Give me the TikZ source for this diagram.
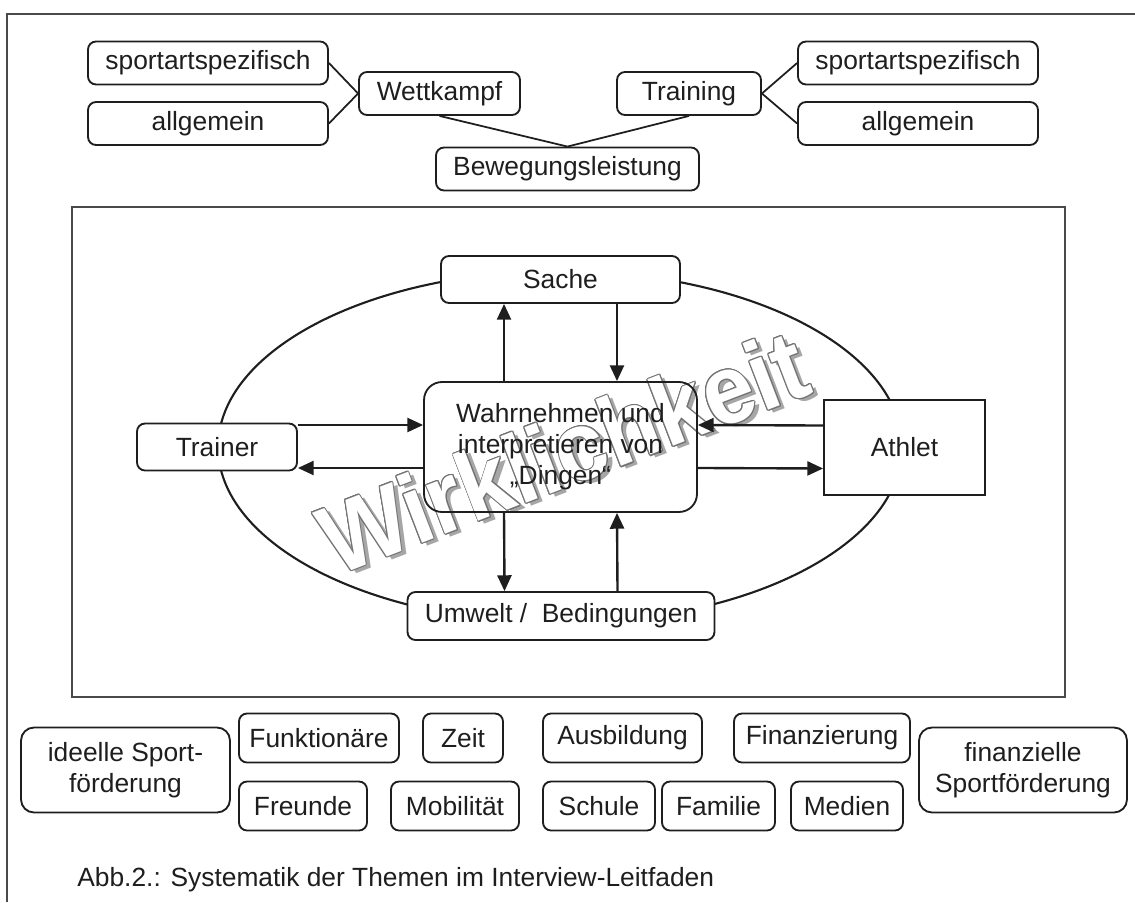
\documentclass[tikz,border=0pt]{standalone}
\usepackage{fontspec}
\setmainfont{Liberation Sans}
\usepackage{contour}
\usetikzlibrary{arrows.meta,positioning}
\definecolor{Ink}{HTML}{1E1E1E}
\definecolor{Frame}{HTML}{4A4A4A}
\contourlength{0.6pt}
\tikzset{
  box/.style={draw=Ink, line width=1.05pt, rounded corners=1.6mm, fill=white,
              align=center, inner sep=0pt, minimum height=0.86cm,
              font=\fontsize{15}{17.6}\selectfont, text=Ink},
  item/.style={box, minimum height=0.98cm},
  bigbox/.style={box, rounded corners=2.6mm, minimum height=1.7cm},
  plainbox/.style={box, rounded corners=0pt},
  link/.style={draw=Ink, line width=1pt},
  arrow/.style={-{Triangle[length=9pt,width=8pt]}, line width=1.35pt, draw=Ink},
  wmark/.style={font=\fontsize{56}{56}\selectfont\bfseries, inner sep=0pt},
}

\begin{document}
\begin{tikzpicture}[x=0.02cm, y=-0.02cm]
  \useasboundingbox (0,0) rectangle (1135,902);
  \draw[Frame, line width=1.1pt] (1135,14) -- (7,14) -- (7,902);

  % Bewegungsleistung
  \node[box, minimum width=4.8cm] (sportL) at (208,63) {sportartspezifisch};
  \node[box, minimum width=4.8cm] (allgL) at (208,123.5) {allgemein};
  \node[box, minimum width=3.22cm] (wett) at (439.5,93.5) {Wettkampf};
  \node[box, minimum width=2.88cm] (train) at (689,93.5) {Training};
  \node[box, minimum width=4.8cm] (sportR) at (918,63) {sportartspezifisch};
  \node[box, minimum width=4.8cm] (allgR) at (918,123.5) {allgemein};
  \node[box, minimum width=5.26cm] (beweg) at (567.5,169) {Bewegungsleistung};
  \draw[link] (sportL.east) -- (wett.west);
  \draw[link] (allgL.east) -- (wett.west);
  \draw[link] (train.east) -- (sportR.west);
  \draw[link] (train.east) -- (allgR.west);
  \draw[link] (wett.south) -- (beweg.north);
  \draw[link] (train.south) -- (beweg.north);

  % Wirklichkeit
  \draw[Frame, line width=1.1pt] (72,207) rectangle (1065,697);
  \begin{scope}[shift={(563,452)}, rotate=21, xscale=0.93]
    \node[wmark, text=black!35, transform shape] (shadow) at (4,4) {Wirklichkeit};
    \node[wmark, text=white, transform shape] (wirk) at (0,0) {\contour{black!55}{Wirklichkeit}};
  \end{scope}
  \draw[Ink, line width=1.2pt] (560,447) ellipse [x radius=6.84cm, y radius=3.52cm];

  \node[box, minimum width=4.78cm, minimum height=0.94cm] (sache) at (560.5,279.5) {Sache};
  \node[box, minimum width=3.2cm, minimum height=0.94cm] (trainer) at (217,447) {Trainer};
  \node[plainbox, minimum width=3.22cm, minimum height=1.9cm] (athlet) at (904.5,447.5) {Athlet};
  \node[box, minimum width=6.14cm, minimum height=0.96cm] (umwelt) at (561,616) {Umwelt /\ \ Bedingungen};
  \node[bigbox, fill=none, minimum width=5.46cm, minimum height=2.6cm, rounded corners=3.6mm] (wahr) at (560.5,447)
    {Wahrnehmen und\\interpretieren von\\„Dingen“};

  \draw[arrow] ([yshift=0.44cm]trainer.east) -- ([yshift=0.44cm]wahr.west);
  \draw[arrow] ([yshift=-0.42cm]wahr.west) -- ([yshift=-0.42cm]trainer.east);
  \draw[arrow] ([yshift=0.44cm]athlet.west) -- ([yshift=0.44cm]wahr.east);
  \draw[arrow] ([yshift=-0.42cm]wahr.east) -- ([yshift=-0.42cm]athlet.west);
  \draw[arrow] ([xshift=-1.13cm]wahr.north) -- ([xshift=-1.13cm]sache.south);
  \draw[arrow] ([xshift=1.13cm]sache.south) -- ([xshift=1.13cm]wahr.north);
  \draw[arrow] ([xshift=-1.13cm]wahr.south) -- ([xshift=-1.13cm]umwelt.north);
  \draw[arrow] ([xshift=1.13cm]umwelt.north) -- ([xshift=1.13cm]wahr.south);

  % Themen
  \node[bigbox, minimum width=4.18cm] (ideell) at (125.5,770) {ideelle Sport-\\förderung};
  \node[item, minimum width=3.2cm] (funk) at (319,738) {Funktionäre};
  \node[item, minimum width=1.6cm] (zeit) at (463,738) {Zeit};
  \node[item, minimum width=3.18cm] (ausb) at (622.5,738) {Ausbildung};
  \node[item, minimum width=3.52cm] (finanz) at (822,738) {Finanzierung};
  \node[item, minimum width=2.56cm] (freunde) at (303,806) {Freunde};
  \node[item, minimum width=2.56cm] (mobil) at (455,806) {Mobilität};
  \node[item, minimum width=2.24cm] (schule) at (599,806) {Schule};
  \node[item, minimum width=2.26cm] (familie) at (718.5,806) {Familie};
  \node[item, minimum width=2.24cm] (medien) at (847,806) {Medien};
  \node[bigbox, minimum width=4.16cm] (finSport) at (1023,770) {finanzielle\\Sportförderung};

  \node[anchor=base west, font=\fontsize{15}{17.6}\selectfont, text=Ink, inner sep=0pt] (caption) at (77,886)
    {Abb.2.: Systematik der Themen im Interview-Leitfaden};
\end{tikzpicture}
\end{document}
